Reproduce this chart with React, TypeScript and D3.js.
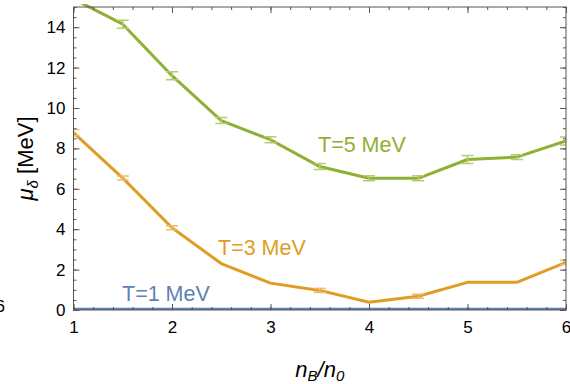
import { useRef, useEffect } from 'react';
import * as d3 from 'd3';

const nB = [1, 1.5, 2, 2.5, 3, 3.5, 4, 4.5, 5, 5.5, 6];
const muT1 = [0.04, 0.04, 0.04, 0.04, 0.04, 0.04, 0.04, 0.04, 0.04, 0.04, 0.04];
const muT3 = [8.78, 6.53, 4.07, 2.3, 1.33, 0.97, 0.38, 0.68, 1.37, 1.37, 2.36];
const errT3 = [0.15, 0.1, 0.1, 0, 0, 0.1, 0, 0.1, 0, 0, 0.1];
const muT5 = [15.4, 14.15, 11.6, 9.38, 8.43, 7.1, 6.52, 6.52, 7.45, 7.57, 8.37];
const errT5 = [0, 0.2, 0.2, 0.15, 0.15, 0.15, 0.12, 0.12, 0.2, 0.12, 0.2];

const yTicks = [0, 2, 4, 6, 8, 10, 12, 14];
const xTicks = [1, 2, 3, 4, 5, 6];

const series = [
  { label: 'T=1 MeV', values: muT1, errs: null as number[] | null, color: '#5E81B5', bar: '#8FA8CF', lx: 122, ly: 301 },
  { label: 'T=3 MeV', values: muT3, errs: errT3, color: '#E19C24', bar: '#EDBB6A', lx: 218, ly: 255 },
  { label: 'T=5 MeV', values: muT5, errs: errT5, color: '#8FB032', bar: '#B5CC74', lx: 318, ly: 152 },
];

export default function App() {
  const svgRef = useRef<SVGSVGElement>(null);

  useEffect(() => {
    if (!svgRef.current) return;
    const svg = d3.select(svgRef.current);
    svg.selectAll('*').remove();

    const width = 570;
    const height = 384;
    const margin = { top: 7, right: 4, bottom: 74, left: 73.5 };
    const innerW = width - margin.left - margin.right;
    const innerH = height - margin.top - margin.bottom;
    const font = 'Liberation Sans, Arial, Helvetica, sans-serif';

    svg.attr('viewBox', `0 0 ${width} ${height}`);

    const xScale = d3.scaleLinear().domain([1, 6]).range([0, innerW]);
    const yScale = d3.scaleLinear().domain([0, 15]).range([innerH, 0]);

    svg.append('defs').append('clipPath').attr('id', 'plotclip')
      .append('rect').attr('x', 0).attr('y', -3).attr('width', innerW).attr('height', innerH + 3);

    const g = svg.append('g').attr('transform', `translate(${margin.left},${margin.top})`);
    const plot = g.append('g').attr('clip-path', 'url(#plotclip)');

    const lineFn = d3.line<number>()
      .x((_, i) => xScale(nB[i]))
      .y((d) => yScale(d));

    series.forEach((s) => {
      plot.append('path')
        .datum(s.values)
        .attr('d', lineFn)
        .attr('fill', 'none')
        .attr('stroke', s.color)
        .attr('stroke-width', 3)
        .attr('stroke-linejoin', 'round');

      if (s.errs) {
        s.errs.forEach((e, i) => {
          if (e <= 0) return;
          const x = xScale(nB[i]);
          const y0 = yScale(s.values[i] - e);
          const y1 = yScale(s.values[i] + e);
          const eb = plot.append('g').attr('stroke', s.bar).attr('stroke-width', 1.5);
          eb.append('line').attr('x1', x).attr('x2', x).attr('y1', y0).attr('y2', y1);
          eb.append('line').attr('x1', x - 6).attr('x2', x + 6).attr('y1', y0).attr('y2', y0);
          eb.append('line').attr('x1', x - 6).attr('x2', x + 6).attr('y1', y1).attr('y2', y1);
        });
      }

      svg.append('text')
        .attr('x', s.lx).attr('y', s.ly)
        .attr('fill', s.color)
        .style('font-family', font).style('font-size', '21.5px')
        .text(s.label);
    });

    // Frame with inward ticks
    const frameColor = '#555';
    const minorX = d3.range(1, 6.001, 0.2);
    const minorY = d3.range(0, 15.001, 0.5);
    g.append('g')
      .attr('transform', `translate(0,${innerH})`)
      .call(d3.axisBottom(xScale).tickValues(minorX).tickSize(-3).tickFormat(() => ''))
      .call((a) => { a.selectAll('line').attr('stroke', frameColor); a.select('.domain').remove(); });
    g.append('g')
      .call(d3.axisTop(xScale).tickValues(minorX).tickSize(-3).tickFormat(() => ''))
      .call((a) => { a.selectAll('line').attr('stroke', frameColor); a.select('.domain').remove(); });
    g.append('g')
      .call(d3.axisLeft(yScale).tickValues(minorY).tickSize(-3).tickFormat(() => ''))
      .call((a) => { a.selectAll('line').attr('stroke', frameColor); a.select('.domain').remove(); });
    g.append('g')
      .attr('transform', `translate(${innerW},0)`)
      .call(d3.axisRight(yScale).tickValues(minorY).tickSize(-3).tickFormat(() => ''))
      .call((a) => { a.selectAll('line').attr('stroke', frameColor); a.select('.domain').remove(); });

    g.append('g')
      .attr('transform', `translate(0,${innerH})`)
      .call(d3.axisBottom(xScale).tickValues(xTicks).tickSize(-6).tickPadding(11).tickFormat(d3.format('d')))
      .call((a) => {
        a.selectAll('line').attr('stroke', frameColor);
        a.select('.domain').remove();
        a.selectAll('text').attr('fill', '#000').style('font-family', font).style('font-size', '17px');
      });
    g.append('g')
      .call(d3.axisTop(xScale).tickValues(xTicks).tickSize(-6).tickFormat(() => ''))
      .call((a) => { a.selectAll('line').attr('stroke', frameColor); a.select('.domain').remove(); });
    g.append('g')
      .call(d3.axisLeft(yScale).tickValues(yTicks).tickSize(-6).tickPadding(8).tickFormat(d3.format('d')))
      .call((a) => {
        a.selectAll('line').attr('stroke', frameColor);
        a.select('.domain').remove();
        a.selectAll('text').attr('fill', '#000').style('font-family', font).style('font-size', '17px');
      });
    g.append('g')
      .attr('transform', `translate(${innerW},0)`)
      .call(d3.axisRight(yScale).tickValues(yTicks).tickSize(-6).tickFormat(() => ''))
      .call((a) => { a.selectAll('line').attr('stroke', frameColor); a.select('.domain').remove(); });

    g.append('rect')
      .attr('x', 0).attr('y', 0).attr('width', innerW).attr('height', innerH)
      .attr('fill', 'none').attr('stroke', frameColor).attr('stroke-width', 1);

    // Leftover tick label from neighbouring panel
    svg.append('text')
      .attr('x', 5).attr('y', 312)
      .attr('text-anchor', 'end')
      .style('font-family', font).style('font-size', '17px')
      .text('6');

    // Axis labels
    const xl = svg.append('text')
      .attr('x', margin.left + innerW / 2).attr('y', 377)
      .attr('text-anchor', 'middle')
      .style('font-family', font).style('font-size', '22px').style('font-style', 'italic');
    xl.append('tspan').text('n');
    xl.append('tspan').attr('dy', 4).style('font-size', '15px').text('B');
    xl.append('tspan').attr('dy', -4).text('/n');
    xl.append('tspan').attr('dy', 4).style('font-size', '15px').text('0');

    const yl = svg.append('text')
      .attr('transform', `translate(33, ${margin.top + innerH / 2}) rotate(-90)`)
      .attr('text-anchor', 'middle')
      .style('font-family', font).style('font-size', '22px');
    yl.append('tspan').style('font-style', 'italic').text('μ');
    yl.append('tspan').attr('dy', 5).style('font-size', '15px').style('font-style', 'italic').text('δ');
    yl.append('tspan').attr('dy', -5).text(' [MeV]');
  }, []);

  return (
    <svg
      ref={svgRef}
      width={570}
      height={384}
      style={{ position: 'absolute', left: 0, top: 0, background: '#fff' }}
    />
  );
}
